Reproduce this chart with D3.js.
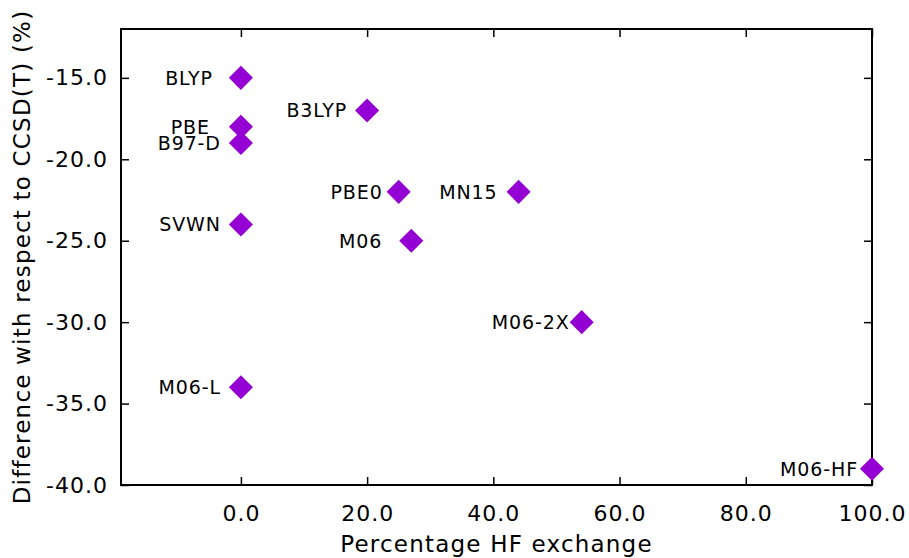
<!DOCTYPE html>
<html>
<head>
<meta charset="utf-8">
<script src="https://cdn.jsdelivr.net/npm/d3@7"></script>
<style>
  body { margin: 0; background: #fff; }
  text { font-family: "DejaVu Sans", sans-serif; fill: #000; }
</style>
</head>
<body>
<div id="chart"></div>
<script>
// functionals, % HF exchange, deviation from CCSD(T) in %
const names = ["BLYP", "PBE", "B97-D", "SVWN", "M06-L", "B3LYP", "PBE0", "M06", "MN15", "M06-2X", "M06-HF"];
const hfExchange = [0, 0, 0, 0, 0, 20, 25, 27, 44, 54, 100];
const deviation = [-15, -18, -19, -24, -34, -17, -22, -25, -22, -30, -39];
const labelGap = [28, 31, 20, 20, 20, 20, 16, 29, 21, 12, 14]; // px left of marker

const xTicks = [0, 20, 40, 60, 80, 100];
const yTicks = [-40, -35, -30, -25, -20, -15];

const width = 909, height = 558;
const margin = { top: 29, right: 37, bottom: 73, left: 121 };
const W = width - margin.left - margin.right;
const H = height - margin.top - margin.bottom;

const svg = d3.select("#chart").append("svg")
  .attr("width", width)
  .attr("height", height);

const g = svg.append("g")
  .attr("transform", `translate(${margin.left},${margin.top})`);

const x = d3.scaleLinear().domain([-19, 100]).range([0, W]);
const y = d3.scaleLinear().domain([-40, -12]).range([H, 0]);

const fmt = d => d.toFixed(1); // plain hyphen like gnuplot
const tickLen = 8;

// bottom + left axes with labels, ticks pointing inward
const xAxis = g.append("g")
  .attr("transform", `translate(0,${H})`)
  .call(d3.axisBottom(x).tickValues(xTicks).tickFormat(fmt).tickSizeInner(-tickLen).tickSizeOuter(0).tickPadding(20));
const yAxis = g.append("g")
  .call(d3.axisLeft(y).tickValues(yTicks).tickFormat(fmt).tickSizeInner(-tickLen).tickSizeOuter(0).tickPadding(13));
// mirrored ticks on top and right
const xTop = g.append("g")
  .call(d3.axisTop(x).tickValues(xTicks).tickFormat("").tickSizeInner(-tickLen).tickSizeOuter(0));
const yRight = g.append("g")
  .attr("transform", `translate(${W},0)`)
  .call(d3.axisRight(y).tickValues(yTicks).tickFormat("").tickSizeInner(-tickLen).tickSizeOuter(0));

[xAxis, yAxis, xTop, yRight].forEach(a => {
  a.select(".domain").remove();
  a.selectAll(".tick line").attr("stroke", "#000").attr("stroke-width", 1.5);
  a.selectAll(".tick text")
    .style("font-size", "22px")
    .style("font-family", "DejaVu Sans")
    .style("letter-spacing", "1px")
    .attr("fill", "#000");
});
xAxis.selectAll(".tick text").attr("dy", "0.71em");

// frame
g.append("rect")
  .attr("width", W)
  .attr("height", H)
  .attr("fill", "none")
  .attr("stroke", "#000")
  .attr("stroke-width", 2);

const pts = names.map((n, i) => ({ name: n, hf: hfExchange[i], dev: deviation[i], gap: labelGap[i] }));

const diamond = d3.symbol().type(d3.symbolSquare).size(290);

g.selectAll("path.pt")
  .data(pts)
  .enter().append("path")
  .attr("class", "pt")
  .attr("d", diamond)
  .attr("transform", d => `translate(${x(d.hf)},${y(d.dev)}) rotate(45)`)
  .attr("fill", "#9400d3");

g.selectAll("text.lbl")
  .data(pts)
  .enter().append("text")
  .attr("class", "lbl")
  .attr("x", d => x(d.hf) - d.gap)
  .attr("y", d => y(d.dev))
  .attr("dy", "0.36em")
  .attr("text-anchor", "end")
  .style("font-size", "19px")
  .style("letter-spacing", "0.9px")
  .text(d => d.name);

// axis titles
svg.append("text")
  .attr("x", margin.left + W / 2)
  .attr("y", 552)
  .attr("text-anchor", "middle")
  .style("font-size", "23px")
  .style("letter-spacing", "1.2px")
  .text("Percentage HF exchange");

svg.append("text")
  .attr("transform", `translate(30,${margin.top + H / 2}) rotate(-90)`)
  .attr("text-anchor", "middle")
  .style("font-size", "23px")
  .style("letter-spacing", "1.2px")
  .text("Difference with respect to CCSD(T) (%)");
</script>
</body>
</html>
